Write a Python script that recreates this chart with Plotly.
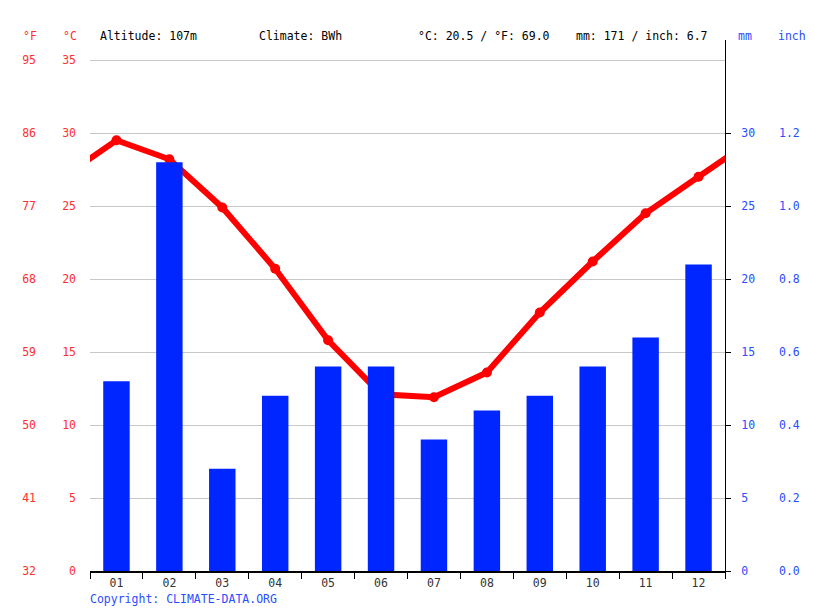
import plotly.graph_objects as go

# Monthly climate values
months = ["01", "02", "03", "04", "05", "06", "07", "08", "09", "10", "11", "12"]
precip_mm = [13, 28, 7, 12, 14, 14, 9, 11, 12, 14, 16, 21]
temp_c = [29.5, 28.2, 24.9, 20.7, 15.8, 12.1, 11.9, 13.6, 17.7, 21.2, 24.5, 27.0]

# Axis tick labels
c_ticks = [0, 5, 10, 15, 20, 25, 30, 35]
f_labels = ["32", "41", "50", "59", "68", "77", "86", "95"]
mm_ticks = [0, 5, 10, 15, 20, 25, 30]
inch_labels = ["0.0", "0.2", "0.4", "0.6", "0.8", "1.0", "1.2"]

RED = "#ff0000"
BLUE = "#0026ff"
LBL_RED = "#ff3030"
LBL_BLUE = "#2a4dff"
FONT = "DejaVu Sans Mono"
FS = 11.5
YMAX = 36.37

# page has an 8px body margin, so the figure is drawn 8px smaller
OFF = 8
W, H = 815 - OFF, 611 - OFF
L, R, T, B = 90 - OFF, 90, 40 - OFF, 40

x = list(range(1, 13))
# wrap the year so the line runs out to both edges (clipped by the axes)
line_x = [0] + x + [13]
line_y = [temp_c[-1]] + temp_c + [temp_c[0]]

fig = go.Figure()
fig.add_trace(go.Bar(x=x, y=precip_mm, width=0.5, marker_color=BLUE,
                     marker_line_width=0, yaxis="y2", hoverinfo="skip"))
fig.add_trace(go.Scatter(x=line_x, y=line_y, mode="lines",
                         line=dict(color=RED, width=6), yaxis="y"))
fig.add_trace(go.Scatter(x=x, y=temp_c, mode="markers",
                         marker=dict(color=RED, size=10), yaxis="y"))
# empty carriers so the °F and inch axes get drawn
for ax in ["y3", "y4"]:
    fig.add_trace(go.Scatter(x=[1], y=[0], mode="markers", yaxis=ax,
                             marker=dict(opacity=0), hoverinfo="skip"))

fig.update_layout(
    width=W, height=H,
    margin=dict(l=L, r=R, t=T, b=B, pad=0),
    plot_bgcolor="white", paper_bgcolor="white",
    showlegend=False,
    font=dict(family=FONT, size=FS),
    xaxis=dict(
        range=[0.5, 12.5], tickvals=x, ticktext=months, ticks="",
        showgrid=False, zeroline=False,
        showline=True, linecolor="black", linewidth=2,
        tickfont=dict(color="#333333", size=FS),
        minor=dict(tickvals=[i + 0.5 for i in range(13)], ticks="outside",
                   ticklen=6, tickcolor="black", showgrid=False),
    ),
    yaxis=dict(
        range=[0, YMAX], tickvals=c_ticks, ticks="",
        showgrid=True, gridcolor="#c8c8c8", gridwidth=1, zeroline=False,
        showline=False, tickfont=dict(color=LBL_RED, size=FS),
        ticklabelstandoff=13,
    ),
    yaxis3=dict(
        range=[0, YMAX], overlaying="y", side="left",
        tickvals=c_ticks, ticktext=f_labels, ticks="",
        showgrid=False, zeroline=False, showline=False,
        tickfont=dict(color=LBL_RED, size=FS), ticklabelstandoff=53,
    ),
    yaxis2=dict(
        range=[0, YMAX], overlaying="y", side="right",
        tickvals=mm_ticks, ticks="outside", ticklen=5, tickcolor="black",
        tickwidth=1,
        showgrid=False, zeroline=False,
        showline=True, linecolor="black", linewidth=1,
        tickfont=dict(color=LBL_BLUE, size=FS), ticklabelstandoff=8,
    ),
    yaxis4=dict(
        range=[0, YMAX], overlaying="y", side="right",
        tickvals=mm_ticks, ticktext=inch_labels, ticks="",
        showgrid=False, zeroline=False, showline=False,
        tickfont=dict(color=LBL_BLUE, size=FS), ticklabelstandoff=53,
    ),
)

header = [
    (30, "°F", LBL_RED, "center"),
    (70, "°C", LBL_RED, "center"),
    (98, "Altitude: 107m", "black", "left"),
    (257, "Climate: BWh", "black", "left"),
    (416, "°C: 20.5 / °F: 69.0", "black", "left"),
    (574, "mm: 171 / inch: 6.7", "black", "left"),
    (745, "mm", LBL_BLUE, "center"),
    (792, "inch", LBL_BLUE, "center"),
]
pw, ph = W - L - R, H - T - B


def to_paper(px, py):
    # page pixel -> plot-area paper fraction
    return (px - OFF - L) / pw, 1 - (py - OFF - T) / ph


for px, txt, col, anc in header:
    ax_, ay_ = to_paper(px, 36)
    fig.add_annotation(x=ax_, y=ay_, xref="paper", yref="paper",
                       xanchor=anc, yanchor="middle", text=txt, showarrow=False,
                       font=dict(color=col, size=FS, family=FONT))
cx, cy = to_paper(88, 599)
fig.add_annotation(x=cx, y=cy, xref="paper", yref="paper",
                   xanchor="left", yanchor="middle", text="Copyright: CLIMATE-DATA.ORG",
                   showarrow=False, font=dict(color=LBL_BLUE, size=FS, family=FONT))

fig.write_html("out.html")
